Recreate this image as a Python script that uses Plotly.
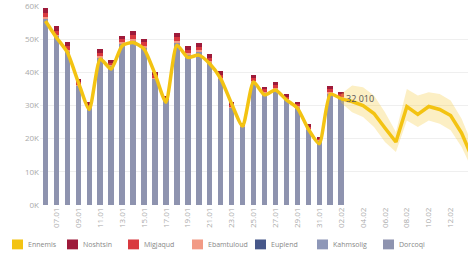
import plotly.graph_objects as go

dates = ["2022-01-06", "2022-01-07", "2022-01-08", "2022-01-09", "2022-01-10", "2022-01-11",
         "2022-01-12", "2022-01-13", "2022-01-14", "2022-01-15", "2022-01-16", "2022-01-17",
         "2022-01-18", "2022-01-19", "2022-01-20", "2022-01-21", "2022-01-22", "2022-01-23",
         "2022-01-24", "2022-01-25", "2022-01-26", "2022-01-27", "2022-01-28", "2022-01-29",
         "2022-01-30", "2022-01-31", "2022-02-01", "2022-02-02"]

gray_vals = [56300, 51000, 46300, 36000, 29500, 44500, 42000, 48700, 49600, 47500, 38000, 31700,
             49000, 45500, 46300, 42900, 38000, 29400, 23800, 37100, 34000, 35100, 31700, 29400,
             22900, 19500, 33700, 32400]
kahm_vals = [0] * 28
navy_vals = [0] * 28
salmon_vals = [400, 400, 400, 300, 200, 400, 200, 300, 400, 400, 300, 200,
               400, 300, 400, 400, 300, 200, 200, 300, 200, 300, 300, 300,
               200, 100, 300, 300]
red_vals = [1200, 1200, 1100, 800, 600, 1000, 700, 1000, 1200, 1100, 800, 500,
            1200, 1000, 1000, 1000, 1000, 700, 400, 900, 700, 800, 700, 700,
            600, 300, 900, 700]
darkred_vals = [1500, 1400, 1200, 900, 700, 1100, 800, 1000, 1300, 1200, 900, 600,
                1200, 1000, 1100, 1100, 1100, 700, 400, 1000, 700, 900, 800, 800,
                600, 400, 1000, 800]
line_vals = [55500, 50500, 46000, 37000, 28800, 44000, 41000, 48000, 49000, 47000, 39500, 31000,
             48200, 44500, 45200, 42600, 38100, 30500, 23800, 37100, 33200, 34700, 31700, 29200,
             22900, 18500, 33400, 32010]

fc_dates = ["2022-02-02", "2022-02-03", "2022-02-04", "2022-02-05", "2022-02-06", "2022-02-07",
            "2022-02-08", "2022-02-09", "2022-02-10", "2022-02-11", "2022-02-12", "2022-02-13",
            "2022-02-14"]
fc_line = [32010, 31200, 30000, 27600, 23200, 19000, 29700, 27300, 29700, 28800, 27000, 21700, 14000]
fc_upper = [33500, 36000, 35500, 33000, 28000, 22000, 35000, 33000, 34000, 33500, 31500, 26000, 18000]
fc_lower = [30800, 28000, 26500, 23500, 19000, 16000, 25500, 23500, 25500, 24500, 22500, 17500, 10500]

names = ["Ennemis", "Noshtsin", "Migjaqud", "Ebamtuloud", "Euplend", "Kahmsolig", "Dorcoqi"]
colors = ["#F3C312", "#9E1A3A", "#D9393F", "#F29A85", "#47588A", "#8E97B8", "#8E93AF"]

y_ticks = [0, 10000, 20000, 30000, 40000, 50000, 60000]
y_labels = ["0K", "10K", "20K", "30K", "40K", "50K", "60K"]

# legend layout (pixel positions of swatches)
legend_px = [12, 67, 128, 192, 255, 317, 383]
L, PW, BOTTOM, PH = 40, 428, 205, 203

fig = go.Figure()

stack = [(gray_vals, 6), (kahm_vals, 5), (navy_vals, 4), (salmon_vals, 3), (red_vals, 2), (darkred_vals, 1)]
for vals, idx in stack:
    fig.add_trace(go.Bar(x=dates, y=vals, name=names[idx], marker=dict(color=colors[idx], line=dict(width=0)),
                         showlegend=False))

fig.add_trace(go.Scatter(x=fc_dates, y=fc_upper, mode="lines", line=dict(width=0, color="rgba(0,0,0,0)"),
                         showlegend=False, hoverinfo="skip"))
fig.add_trace(go.Scatter(x=fc_dates, y=fc_lower, mode="lines", line=dict(width=0, color="rgba(0,0,0,0)"),
                         fill="tonexty", fillcolor="rgba(246,206,70,0.32)", showlegend=False, hoverinfo="skip"))
fig.add_trace(go.Scatter(x=fc_dates, y=fc_line, mode="lines", name=names[0],
                         line=dict(color=colors[0], width=3.5), showlegend=False))
fig.add_trace(go.Scatter(x=dates, y=line_vals, mode="lines", name=names[0],
                         line=dict(color=colors[0], width=3.5, shape="spline", smoothing=0.6), showlegend=False))

fig.add_annotation(x=dates[-1], y=line_vals[-1], text="32 010", showarrow=False, xanchor="left", xshift=3,
                   font=dict(size=9, color="#555"))

# custom legend
for name, col, px in zip(names, colors, legend_px):
    x0 = (px - L) / PW
    x1 = (px + 11 - L) / PW
    y0 = (BOTTOM - 250) / PH
    y1 = (BOTTOM - 240) / PH
    fig.add_shape(type="rect", xref="paper", yref="paper", x0=x0, x1=x1, y0=y0, y1=y1,
                  fillcolor=col, line=dict(width=0))
    fig.add_annotation(xref="paper", yref="paper", x=(px + 14 - L) / PW, y=(BOTTOM - 245) / PH,
                       text=name, showarrow=False, xanchor="left", yanchor="middle",
                       font=dict(size=7, color="#888"))

fig.update_layout(
    width=468, height=257,
    margin=dict(l=L, r=0, t=2, b=52),
    barmode="stack", bargap=0.5,
    plot_bgcolor="white", paper_bgcolor="white",
    font=dict(family="Open Sans", size=8, color="#999"),
    showlegend=False,
)
fig.update_yaxes(range=[0, 60300], tickvals=y_ticks, ticktext=y_labels, gridcolor="#efefef",
                 zeroline=False, showline=False, ticks="", tickfont=dict(size=8, color="#aaa"),
                 ticklabeloverflow="allow")
fig.update_xaxes(type="date", range=["2022-01-05 12:00", "2022-02-13 14:00"], tick0="2022-01-07",
                 dtick=2 * 86400000, tickformat="%d.%m", tickangle=-90, showgrid=False,
                 tickfont=dict(size=8, color="#aaa"), showline=False, zeroline=False)

fig.write_html("out.html", config={"displayModeBar": False},
               post_script="document.body.style.margin='0';")
